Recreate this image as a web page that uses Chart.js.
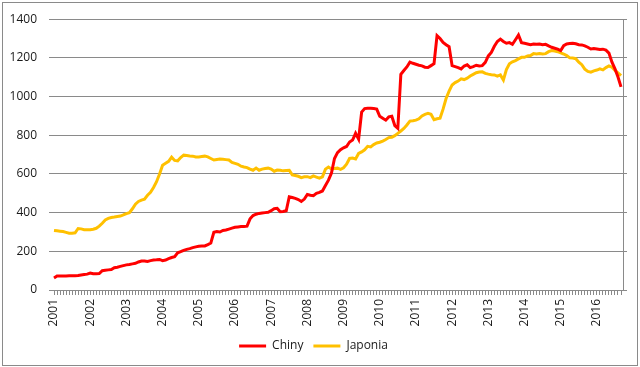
<!DOCTYPE html>
<html>
<head>
<meta charset="utf-8">
<script src="https://cdn.jsdelivr.net/npm/chart.js@4.4.0/dist/chart.umd.min.js"></script>
<style>
  html, body { margin: 0; padding: 0; background: #fff; }
  #wrap { width: 640px; height: 367px; }
</style>
</head>
<body>
<div id="wrap"><canvas id="chart" width="640" height="367"></canvas></div>
<script>
// Year tick labels (January of each year)
const yearLabels = ['2001', '2002', '2003', '2004', '2005', '2006', '2007', '2008',
    '2009', '2010', '2011', '2012', '2013', '2014', '2015', '2016'];

// Monthly values, Jan 2001 - Sep 2016
const chiny = [
    62, 72, 73, 73, 73, 74, 74, 74, 75, 78, 80, 82,
    88, 84, 84, 85, 100, 102, 104, 106, 115, 118, 122, 126,
    130, 132, 135, 138, 145, 150, 150, 148, 152, 155, 156, 158,
    152, 155, 162, 168, 172, 192, 198, 205, 210, 214, 219, 223,
    226, 227, 228, 235, 243, 298, 302, 300, 308, 310, 315, 320,
    324, 326, 328, 328, 330, 368, 385, 392, 396, 398, 400, 402,
    410, 420, 422, 405, 406, 410, 482, 478, 474, 468, 458, 470,
    494, 490, 488, 500, 505, 512, 540, 568, 605, 680, 710, 725,
    735, 742, 765, 775, 810, 780, 920, 938, 940, 940, 938, 935,
    898, 888, 878, 895, 898, 850, 836, 1115, 1135, 1153, 1178, 1172,
    1167, 1162, 1159, 1152, 1150, 1160, 1170, 1315, 1300, 1280, 1268, 1258,
    1160, 1155, 1150, 1143, 1158, 1164, 1150, 1155, 1162, 1158, 1160, 1177,
    1210, 1228, 1260, 1285, 1297, 1285, 1276, 1279, 1270, 1294, 1318, 1279,
    1276, 1272, 1268, 1272, 1270, 1272, 1268, 1270, 1262, 1255, 1250, 1245,
    1238, 1263, 1272, 1274, 1276, 1273, 1268, 1267, 1262, 1255, 1246, 1248,
    1246, 1243, 1245, 1240, 1225, 1178, 1143, 1101, 1050
];

const japonia = [
    308, 306, 304, 302, 298, 294, 294, 296, 318, 316, 312, 311,
    311, 314, 319, 330, 345, 362, 370, 375, 377, 380, 382, 388,
    395, 400, 420, 444, 458, 465, 470, 490, 505, 530, 560, 600,
    645, 655, 665, 687, 670, 668, 685, 697, 695, 693, 692, 688,
    688, 690, 692, 688, 680, 672, 675, 677, 676, 674, 672, 660,
    655, 650, 640, 636, 633, 625, 619, 630, 619, 625, 628, 630,
    625, 614, 620, 619, 616, 618, 619, 595, 592, 588, 581, 585,
    586, 581, 590, 584, 578, 585, 625, 636, 626, 628, 630, 624,
    632, 650, 680, 682, 677, 706, 714, 725, 743, 740, 752, 760,
    764, 770, 778, 788, 790, 798, 810, 822, 835, 853, 873, 875,
    878, 885, 900, 908, 913, 908, 880, 885, 888, 935, 990, 1028,
    1060, 1072, 1080, 1092, 1088, 1095, 1106, 1115, 1123, 1127, 1128, 1120,
    1116, 1113, 1112, 1106, 1112, 1086, 1140, 1170, 1180, 1186, 1195, 1203,
    1203, 1210, 1212, 1222, 1220, 1222, 1220, 1222, 1232, 1238, 1236, 1232,
    1226, 1220, 1212, 1200, 1199, 1196, 1178, 1165, 1142, 1130, 1126, 1133,
    1137, 1143, 1138, 1150, 1158, 1152, 1135, 1123, 1108
];

const yTicks = [0, 200, 400, 600, 800, 1000, 1200, 1400];

const gridColor = '#8a8a8a';
const textColor = '#1a1a1a';
const font = { family: "'Open Sans', sans-serif", size: 12 };

// month index for every point (x axis is month number from Jan 2001)
const monthIdx = chiny.map((v, i) => i);

const frame = {
    id: 'frame',
    beforeDraw(chart) {
        const ctx = chart.ctx;
        ctx.save();
        ctx.fillStyle = '#fff';
        ctx.fillRect(0, 0, chart.width, chart.height);
        ctx.restore();
    },
    afterDraw(chart) {
        const ctx = chart.ctx;
        ctx.save();
        ctx.strokeStyle = '#8a8a8a';
        ctx.lineWidth = 1;
        ctx.strokeRect(2.5, 2.5, 635, 363);
        ctx.restore();
    }
};

new Chart(document.getElementById('chart'), {
    type: 'line',
    data: {
        datasets: [{
            label: 'Chiny',
            data: chiny.map((v, i) => ({ x: monthIdx[i], y: v })),
            borderColor: '#ff0000',
            backgroundColor: '#ff0000',
            borderWidth: 3,
            pointRadius: 0,
            tension: 0
        }, {
            label: 'Japonia',
            data: japonia.map((v, i) => ({ x: monthIdx[i], y: v })),
            borderColor: '#ffc000',
            backgroundColor: '#ffc000',
            borderWidth: 3,
            pointRadius: 0,
            tension: 0
        }]
    },
    options: {
        responsive: false,
        animation: false,
        devicePixelRatio: 1,
        layout: { padding: { top: 17, left: 0, right: 13, bottom: 5 } },
        plugins: {
            tooltip: { enabled: false },
            legend: {
                position: 'bottom',
                labels: {
                    color: textColor,
                    font: font,
                    boxWidth: 27,
                    boxHeight: 3,
                    padding: 10,
                    generateLabels: chart => Chart.defaults.plugins.legend.labels.generateLabels(chart)
                        .map(l => Object.assign(l, { lineWidth: 0, fillStyle: l.strokeStyle }))
                }
            }
        },
        scales: {
            x: {
                type: 'linear',
                min: -1.66,
                max: 188.66,
                afterBuildTicks: scale => { scale.ticks = monthIdx.map(v => ({ value: v })); },
                afterFit: scale => { scale.height = 40; },
                grid: { drawOnChartArea: false, color: gridColor, tickLength: 5 },
                border: { display: true, color: gridColor },
                ticks: {
                    autoSkip: false,
                    minRotation: 90,
                    maxRotation: 90,
                    padding: 4,
                    color: textColor,
                    font: font,
                    callback: v => (v % 12 === 0 ? yearLabels[v / 12] : '')
                }
            },
            y: {
                position: 'left',
                min: yTicks[0],
                max: yTicks[yTicks.length - 1],
                afterBuildTicks: scale => { scale.ticks = yTicks.map(v => ({ value: v })); },
                afterFit: scale => { scale.width = 49; },
                grid: { color: gridColor, drawTicks: false },
                border: { display: false },
                ticks: { padding: 12, color: textColor, font: font, callback: v => String(v) }
            },
            y2: {
                position: 'right',
                min: yTicks[0],
                max: yTicks[yTicks.length - 1],
                afterBuildTicks: scale => { scale.ticks = yTicks.map(v => ({ value: v })); },
                afterFit: scale => { scale.width = 4; },
                grid: { drawOnChartArea: false, color: gridColor, tickLength: 4 },
                border: { display: true, color: gridColor },
                ticks: { display: false }
            }
        }
    },
    plugins: [frame]
});
</script>
</body>
</html>
